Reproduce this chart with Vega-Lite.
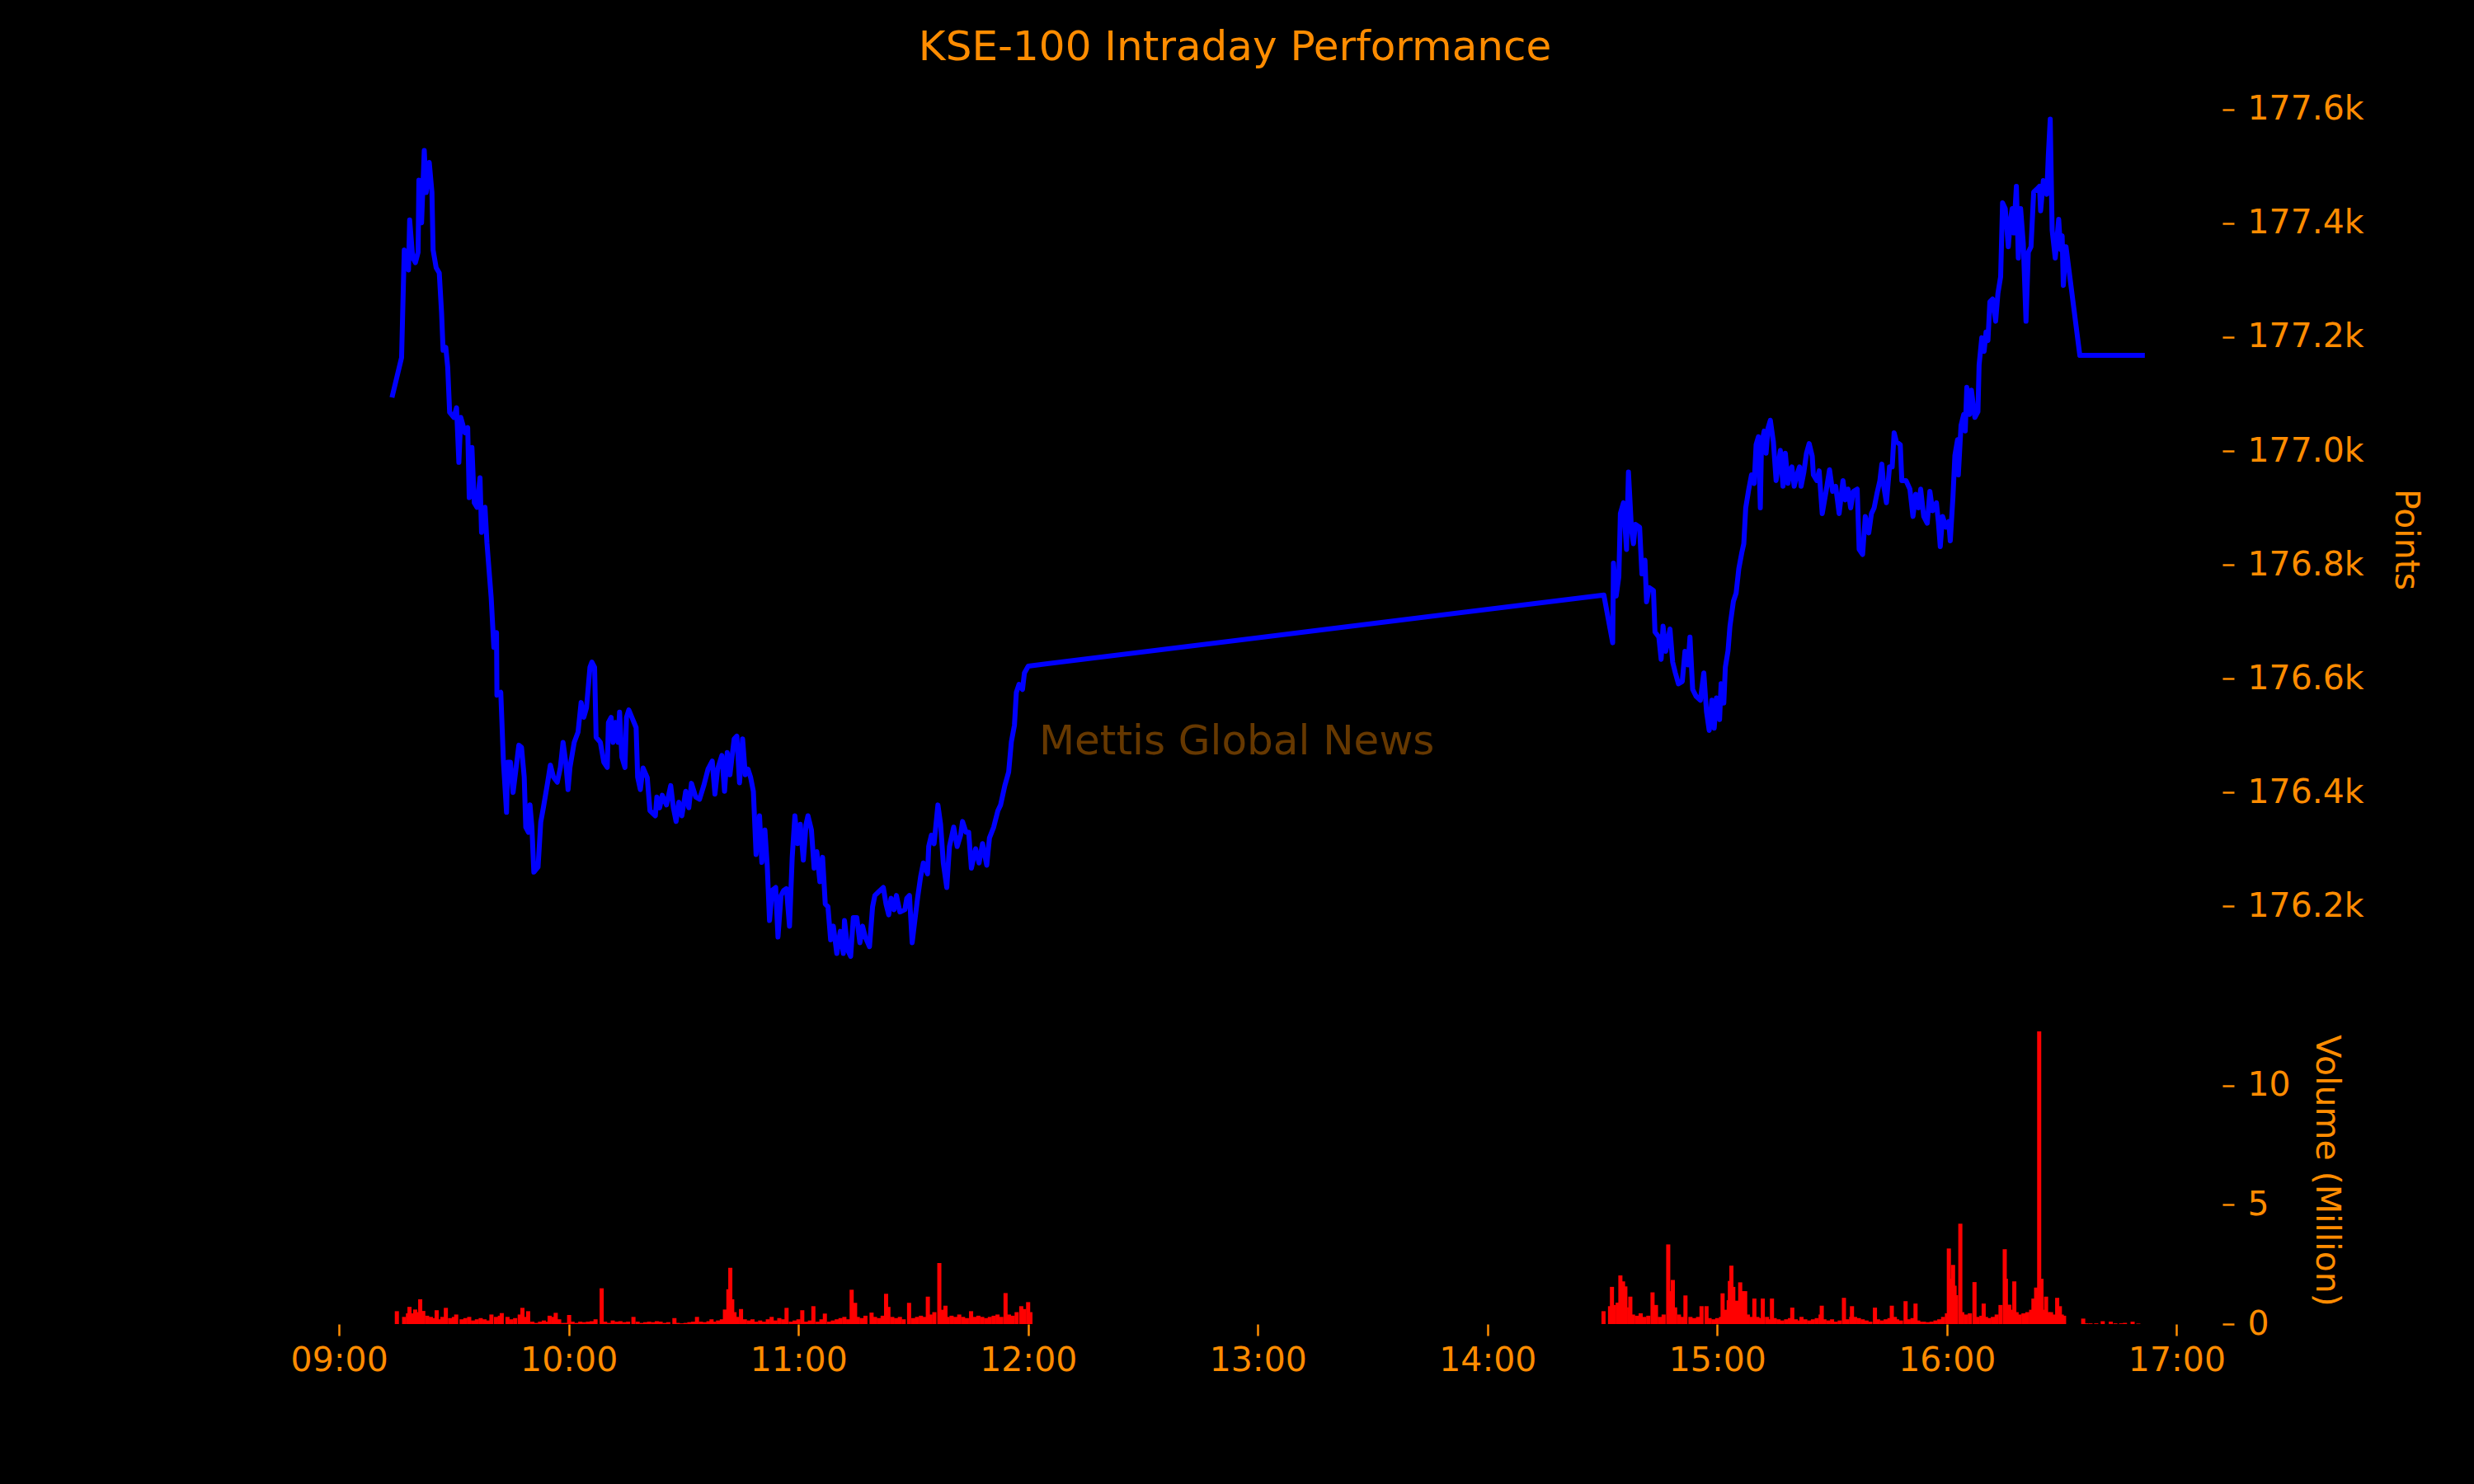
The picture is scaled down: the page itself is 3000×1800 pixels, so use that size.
{
  "$schema": "https://vega.github.io/schema/vega-lite/v6.json",
  "background": "black",
  "padding": {"left": 352, "top": 33, "right": 65, "bottom": 135},
  "title": {
    "text": "KSE-100 Intraday Performance",
    "color": "#ff8c00",
    "font": "DejaVu Sans",
    "fontSize": 50,
    "fontWeight": "normal",
    "anchor": "middle",
    "offset": 16,
    "dx": -147
  },
  "config": {
    "view": {"stroke": null},
    "axis": {
      "domain": false,
      "grid": false,
      "labelColor": "#ff8c00",
      "labelFont": "DejaVu Sans",
      "labelFontSize": 41,
      "tickColor": "#ff8c00",
      "tickSize": 14,
      "tickWidth": 2.5,
      "labelPadding": 16,
      "titleColor": "#ff8c00",
      "titleFont": "DejaVu Sans",
      "titleFontSize": 41,
      "titleFontWeight": "normal"
    }
  },
  "vconcat": [
    {
      "width": 2326,
      "height": 1110,
      "layer": [
        {
          "data": {"values": [
            {"time": "2025-06-02T09:14:48", "points": 177094}, {"time": "2025-06-02T09:17:18", "points": 177164}, {"time": "2025-06-02T09:18:00", "points": 177353},
            {"time": "2025-06-02T09:19:06", "points": 177318}, {"time": "2025-06-02T09:19:24", "points": 177406}, {"time": "2025-06-02T09:20:12", "points": 177340},
            {"time": "2025-06-02T09:20:54", "points": 177331}, {"time": "2025-06-02T09:21:36", "points": 177349}, {"time": "2025-06-02T09:21:48", "points": 177476},
            {"time": "2025-06-02T09:22:30", "points": 177401}, {"time": "2025-06-02T09:23:12", "points": 177528}, {"time": "2025-06-02T09:23:42", "points": 177454},
            {"time": "2025-06-02T09:24:30", "points": 177507}, {"time": "2025-06-02T09:25:12", "points": 177454}, {"time": "2025-06-02T09:25:30", "points": 177353},
            {"time": "2025-06-02T09:26:18", "points": 177322}, {"time": "2025-06-02T09:27:06", "points": 177313}, {"time": "2025-06-02T09:27:42", "points": 177243},
            {"time": "2025-06-02T09:28:06", "points": 177177}, {"time": "2025-06-02T09:28:48", "points": 177182}, {"time": "2025-06-02T09:29:18", "points": 177147},
            {"time": "2025-06-02T09:29:48", "points": 177068}, {"time": "2025-06-02T09:30:54", "points": 177059}, {"time": "2025-06-02T09:31:36", "points": 177076},
            {"time": "2025-06-02T09:32:12", "points": 176980}, {"time": "2025-06-02T09:32:42", "points": 177059}, {"time": "2025-06-02T09:33:48", "points": 177032},
            {"time": "2025-06-02T09:34:30", "points": 177041}, {"time": "2025-06-02T09:34:54", "points": 176918}, {"time": "2025-06-02T09:35:36", "points": 177006},
            {"time": "2025-06-02T09:36:12", "points": 176909}, {"time": "2025-06-02T09:36:54", "points": 176901}, {"time": "2025-06-02T09:37:42", "points": 176953},
            {"time": "2025-06-02T09:38:06", "points": 176857}, {"time": "2025-06-02T09:39:00", "points": 176901}, {"time": "2025-06-02T09:39:30", "points": 176839},
            {"time": "2025-06-02T09:40:36", "points": 176743}, {"time": "2025-06-02T09:41:18", "points": 176655}, {"time": "2025-06-02T09:42:00", "points": 176681},
            {"time": "2025-06-02T09:42:06", "points": 176571}, {"time": "2025-06-02T09:43:06", "points": 176576}, {"time": "2025-06-02T09:43:48", "points": 176453},
            {"time": "2025-06-02T09:44:36", "points": 176365}, {"time": "2025-06-02T09:44:54", "points": 176453}, {"time": "2025-06-02T09:45:36", "points": 176453},
            {"time": "2025-06-02T09:46:18", "points": 176400}, {"time": "2025-06-02T09:47:06", "points": 176444}, {"time": "2025-06-02T09:47:48", "points": 176483},
            {"time": "2025-06-02T09:48:30", "points": 176479}, {"time": "2025-06-02T09:49:12", "points": 176427}, {"time": "2025-06-02T09:49:36", "points": 176339},
            {"time": "2025-06-02T09:50:18", "points": 176330}, {"time": "2025-06-02T09:50:42", "points": 176378}, {"time": "2025-06-02T09:51:12", "points": 176339},
            {"time": "2025-06-02T09:51:42", "points": 176260}, {"time": "2025-06-02T09:52:48", "points": 176269}, {"time": "2025-06-02T09:53:30", "points": 176348},
            {"time": "2025-06-02T09:54:12", "points": 176374}, {"time": "2025-06-02T09:55:18", "points": 176418}, {"time": "2025-06-02T09:56:00", "points": 176448},
            {"time": "2025-06-02T09:56:48", "points": 176427}, {"time": "2025-06-02T09:57:48", "points": 176418}, {"time": "2025-06-02T09:58:36", "points": 176444},
            {"time": "2025-06-02T09:59:18", "points": 176488}, {"time": "2025-06-02T10:00:00", "points": 176453}, {"time": "2025-06-02T10:00:36", "points": 176405},
            {"time": "2025-06-02T10:01:06", "points": 176444}, {"time": "2025-06-02T10:02:12", "points": 176488}, {"time": "2025-06-02T10:03:12", "points": 176506},
            {"time": "2025-06-02T10:04:00", "points": 176558}, {"time": "2025-06-02T10:04:42", "points": 176532}, {"time": "2025-06-02T10:05:24", "points": 176549},
            {"time": "2025-06-02T10:06:18", "points": 176620}, {"time": "2025-06-02T10:06:48", "points": 176629}, {"time": "2025-06-02T10:07:30", "points": 176620},
            {"time": "2025-06-02T10:07:54", "points": 176497}, {"time": "2025-06-02T10:09:00", "points": 176488}, {"time": "2025-06-02T10:09:54", "points": 176453},
            {"time": "2025-06-02T10:10:48", "points": 176444}, {"time": "2025-06-02T10:11:06", "points": 176523}, {"time": "2025-06-02T10:11:48", "points": 176532},
            {"time": "2025-06-02T10:12:18", "points": 176488}, {"time": "2025-06-02T10:12:54", "points": 176523}, {"time": "2025-06-02T10:13:36", "points": 176488},
            {"time": "2025-06-02T10:14:00", "points": 176541}, {"time": "2025-06-02T10:14:36", "points": 176462}, {"time": "2025-06-02T10:15:24", "points": 176444},
            {"time": "2025-06-02T10:15:48", "points": 176532}, {"time": "2025-06-02T10:16:24", "points": 176545}, {"time": "2025-06-02T10:17:12", "points": 176532},
            {"time": "2025-06-02T10:18:18", "points": 176514}, {"time": "2025-06-02T10:18:42", "points": 176427}, {"time": "2025-06-02T10:19:24", "points": 176405},
            {"time": "2025-06-02T10:20:06", "points": 176443}, {"time": "2025-06-02T10:21:12", "points": 176426}, {"time": "2025-06-02T10:21:54", "points": 176368},
            {"time": "2025-06-02T10:23:18", "points": 176359}, {"time": "2025-06-02T10:23:42", "points": 176392}, {"time": "2025-06-02T10:24:24", "points": 176373},
            {"time": "2025-06-02T10:25:06", "points": 176395}, {"time": "2025-06-02T10:26:12", "points": 176378}, {"time": "2025-06-02T10:27:18", "points": 176412},
            {"time": "2025-06-02T10:28:00", "points": 176373}, {"time": "2025-06-02T10:28:42", "points": 176349}, {"time": "2025-06-02T10:29:24", "points": 176383},
            {"time": "2025-06-02T10:30:12", "points": 176359}, {"time": "2025-06-02T10:31:12", "points": 176402}, {"time": "2025-06-02T10:32:00", "points": 176373},
            {"time": "2025-06-02T10:32:42", "points": 176416}, {"time": "2025-06-02T10:33:48", "points": 176392}, {"time": "2025-06-02T10:34:48", "points": 176388},
            {"time": "2025-06-02T10:35:54", "points": 176412}, {"time": "2025-06-02T10:37:00", "points": 176441}, {"time": "2025-06-02T10:38:06", "points": 176455},
            {"time": "2025-06-02T10:38:48", "points": 176397}, {"time": "2025-06-02T10:39:30", "points": 176441}, {"time": "2025-06-02T10:40:36", "points": 176465},
            {"time": "2025-06-02T10:41:18", "points": 176402}, {"time": "2025-06-02T10:42:00", "points": 176470}, {"time": "2025-06-02T10:42:42", "points": 176431},
            {"time": "2025-06-02T10:43:48", "points": 176494}, {"time": "2025-06-02T10:44:30", "points": 176499}, {"time": "2025-06-02T10:45:12", "points": 176417},
            {"time": "2025-06-02T10:46:00", "points": 176494}, {"time": "2025-06-02T10:46:42", "points": 176431}, {"time": "2025-06-02T10:47:24", "points": 176441},
            {"time": "2025-06-02T10:48:06", "points": 176426}, {"time": "2025-06-02T10:48:48", "points": 176402}, {"time": "2025-06-02T10:49:30", "points": 176291},
            {"time": "2025-06-02T10:50:24", "points": 176359}, {"time": "2025-06-02T10:51:00", "points": 176277}, {"time": "2025-06-02T10:51:48", "points": 176334},
            {"time": "2025-06-02T10:52:24", "points": 176272}, {"time": "2025-06-02T10:53:00", "points": 176175}, {"time": "2025-06-02T10:53:42", "points": 176228},
            {"time": "2025-06-02T10:54:36", "points": 176233}, {"time": "2025-06-02T10:55:12", "points": 176146}, {"time": "2025-06-02T10:56:00", "points": 176219},
            {"time": "2025-06-02T10:56:42", "points": 176228}, {"time": "2025-06-02T10:57:24", "points": 176231}, {"time": "2025-06-02T10:58:12", "points": 176165},
            {"time": "2025-06-02T10:58:54", "points": 176286}, {"time": "2025-06-02T10:59:36", "points": 176359}, {"time": "2025-06-02T11:00:18", "points": 176310},
            {"time": "2025-06-02T11:01:00", "points": 176344}, {"time": "2025-06-02T11:01:48", "points": 176281}, {"time": "2025-06-02T11:02:30", "points": 176344},
            {"time": "2025-06-02T11:03:00", "points": 176359}, {"time": "2025-06-02T11:03:54", "points": 176334}, {"time": "2025-06-02T11:04:36", "points": 176267},
            {"time": "2025-06-02T11:05:18", "points": 176296}, {"time": "2025-06-02T11:06:06", "points": 176243}, {"time": "2025-06-02T11:06:48", "points": 176286},
            {"time": "2025-06-02T11:07:30", "points": 176204}, {"time": "2025-06-02T11:08:12", "points": 176199}, {"time": "2025-06-02T11:08:54", "points": 176141},
            {"time": "2025-06-02T11:09:36", "points": 176165}, {"time": "2025-06-02T11:10:30", "points": 176117}, {"time": "2025-06-02T11:11:24", "points": 176156},
            {"time": "2025-06-02T11:12:12", "points": 176117}, {"time": "2025-06-02T11:12:30", "points": 176175}, {"time": "2025-06-02T11:13:24", "points": 176122},
            {"time": "2025-06-02T11:14:06", "points": 176112}, {"time": "2025-06-02T11:14:48", "points": 176180}, {"time": "2025-06-02T11:15:42", "points": 176180},
            {"time": "2025-06-02T11:16:30", "points": 176136}, {"time": "2025-06-02T11:17:12", "points": 176165}, {"time": "2025-06-02T11:17:54", "points": 176146},
            {"time": "2025-06-02T11:19:00", "points": 176129}, {"time": "2025-06-02T11:19:48", "points": 176199}, {"time": "2025-06-02T11:20:24", "points": 176219},
            {"time": "2025-06-02T11:21:30", "points": 176226}, {"time": "2025-06-02T11:22:36", "points": 176233}, {"time": "2025-06-02T11:23:18", "points": 176204},
            {"time": "2025-06-02T11:24:00", "points": 176185}, {"time": "2025-06-02T11:24:36", "points": 176214}, {"time": "2025-06-02T11:25:24", "points": 176194},
            {"time": "2025-06-02T11:26:00", "points": 176219}, {"time": "2025-06-02T11:26:54", "points": 176190}, {"time": "2025-06-02T11:28:12", "points": 176194},
            {"time": "2025-06-02T11:28:42", "points": 176214}, {"time": "2025-06-02T11:29:24", "points": 176219}, {"time": "2025-06-02T11:30:06", "points": 176136},
            {"time": "2025-06-02T11:30:48", "points": 176175}, {"time": "2025-06-02T11:31:30", "points": 176214}, {"time": "2025-06-02T11:32:18", "points": 176252},
            {"time": "2025-06-02T11:33:00", "points": 176276}, {"time": "2025-06-02T11:34:06", "points": 176257}, {"time": "2025-06-02T11:34:24", "points": 176305},
            {"time": "2025-06-02T11:35:06", "points": 176325}, {"time": "2025-06-02T11:35:48", "points": 176310}, {"time": "2025-06-02T11:36:48", "points": 176378},
            {"time": "2025-06-02T11:37:30", "points": 176344}, {"time": "2025-06-02T11:38:12", "points": 176276}, {"time": "2025-06-02T11:39:06", "points": 176233},
            {"time": "2025-06-02T11:39:48", "points": 176305}, {"time": "2025-06-02T11:40:54", "points": 176339}, {"time": "2025-06-02T11:41:48", "points": 176305},
            {"time": "2025-06-02T11:42:42", "points": 176325}, {"time": "2025-06-02T11:43:12", "points": 176349}, {"time": "2025-06-02T11:44:06", "points": 176330},
            {"time": "2025-06-02T11:44:48", "points": 176330}, {"time": "2025-06-02T11:45:30", "points": 176267}, {"time": "2025-06-02T11:46:36", "points": 176301},
            {"time": "2025-06-02T11:47:30", "points": 176276}, {"time": "2025-06-02T11:48:24", "points": 176310}, {"time": "2025-06-02T11:49:30", "points": 176272},
            {"time": "2025-06-02T11:50:12", "points": 176320}, {"time": "2025-06-02T11:51:18", "points": 176339}, {"time": "2025-06-02T11:52:24", "points": 176368},
            {"time": "2025-06-02T11:53:06", "points": 176378}, {"time": "2025-06-02T11:54:12", "points": 176412}, {"time": "2025-06-02T11:55:12", "points": 176436},
            {"time": "2025-06-02T11:55:54", "points": 176489}, {"time": "2025-06-02T11:56:42", "points": 176518}, {"time": "2025-06-02T11:57:12", "points": 176576},
            {"time": "2025-06-02T11:57:54", "points": 176590}, {"time": "2025-06-02T11:58:48", "points": 176581}, {"time": "2025-06-02T11:59:18", "points": 176610},
            {"time": "2025-06-02T12:00:18", "points": 176622},
            {"time": "2025-06-02T14:30:00", "points": 176747}, {"time": "2025-06-02T14:32:18", "points": 176663}, {"time": "2025-06-02T14:32:30", "points": 176803},
            {"time": "2025-06-02T14:33:12", "points": 176745}, {"time": "2025-06-02T14:33:54", "points": 176779}, {"time": "2025-06-02T14:34:18", "points": 176890},
            {"time": "2025-06-02T14:35:06", "points": 176909}, {"time": "2025-06-02T14:35:54", "points": 176827}, {"time": "2025-06-02T14:36:24", "points": 176963},
            {"time": "2025-06-02T14:37:12", "points": 176861}, {"time": "2025-06-02T14:37:42", "points": 176837}, {"time": "2025-06-02T14:38:12", "points": 176871},
            {"time": "2025-06-02T14:39:18", "points": 176866}, {"time": "2025-06-02T14:39:54", "points": 176784}, {"time": "2025-06-02T14:40:42", "points": 176808},
            {"time": "2025-06-02T14:41:06", "points": 176735}, {"time": "2025-06-02T14:41:48", "points": 176760}, {"time": "2025-06-02T14:42:54", "points": 176755},
            {"time": "2025-06-02T14:43:18", "points": 176682}, {"time": "2025-06-02T14:44:18", "points": 176673}, {"time": "2025-06-02T14:44:54", "points": 176634},
            {"time": "2025-06-02T14:45:24", "points": 176692}, {"time": "2025-06-02T14:46:06", "points": 176648}, {"time": "2025-06-02T14:47:12", "points": 176687},
            {"time": "2025-06-02T14:47:54", "points": 176629}, {"time": "2025-06-02T14:48:36", "points": 176610}, {"time": "2025-06-02T14:49:24", "points": 176591},
            {"time": "2025-06-02T14:50:24", "points": 176595}, {"time": "2025-06-02T14:51:06", "points": 176648}, {"time": "2025-06-02T14:51:54", "points": 176624},
            {"time": "2025-06-02T14:52:24", "points": 176673}, {"time": "2025-06-02T14:53:06", "points": 176581}, {"time": "2025-06-02T14:54:00", "points": 176569},
            {"time": "2025-06-02T14:55:06", "points": 176562}, {"time": "2025-06-02T14:56:00", "points": 176610}, {"time": "2025-06-02T14:56:42", "points": 176542},
            {"time": "2025-06-02T14:57:24", "points": 176509}, {"time": "2025-06-02T14:58:06", "points": 176562}, {"time": "2025-06-02T14:58:42", "points": 176513},
            {"time": "2025-06-02T14:59:18", "points": 176566}, {"time": "2025-06-02T15:00:06", "points": 176528}, {"time": "2025-06-02T15:00:30", "points": 176591},
            {"time": "2025-06-02T15:01:12", "points": 176557}, {"time": "2025-06-02T15:01:36", "points": 176620}, {"time": "2025-06-02T15:02:18", "points": 176649},
            {"time": "2025-06-02T15:02:48", "points": 176692}, {"time": "2025-06-02T15:03:42", "points": 176736}, {"time": "2025-06-02T15:04:24", "points": 176750},
            {"time": "2025-06-02T15:05:06", "points": 176793}, {"time": "2025-06-02T15:05:54", "points": 176822}, {"time": "2025-06-02T15:06:24", "points": 176837},
            {"time": "2025-06-02T15:06:54", "points": 176900}, {"time": "2025-06-02T15:07:42", "points": 176933}, {"time": "2025-06-02T15:08:24", "points": 176958},
            {"time": "2025-06-02T15:09:06", "points": 176943}, {"time": "2025-06-02T15:09:36", "points": 177011}, {"time": "2025-06-02T15:10:12", "points": 177025},
            {"time": "2025-06-02T15:10:42", "points": 176900}, {"time": "2025-06-02T15:11:00", "points": 177011}, {"time": "2025-06-02T15:11:42", "points": 177035},
            {"time": "2025-06-02T15:12:12", "points": 176996}, {"time": "2025-06-02T15:12:42", "points": 177040}, {"time": "2025-06-02T15:13:18", "points": 177054},
            {"time": "2025-06-02T15:14:06", "points": 177016}, {"time": "2025-06-02T15:14:48", "points": 176948}, {"time": "2025-06-02T15:15:54", "points": 177001},
            {"time": "2025-06-02T15:16:36", "points": 176938}, {"time": "2025-06-02T15:17:12", "points": 176996}, {"time": "2025-06-02T15:17:54", "points": 176943},
            {"time": "2025-06-02T15:18:24", "points": 176967}, {"time": "2025-06-02T15:18:54", "points": 176972}, {"time": "2025-06-02T15:19:30", "points": 176938},
            {"time": "2025-06-02T15:20:12", "points": 176958}, {"time": "2025-06-02T15:20:54", "points": 176972}, {"time": "2025-06-02T15:21:18", "points": 176938},
            {"time": "2025-06-02T15:22:00", "points": 176962}, {"time": "2025-06-02T15:22:42", "points": 176996}, {"time": "2025-06-02T15:23:24", "points": 177013},
            {"time": "2025-06-02T15:24:12", "points": 176991}, {"time": "2025-06-02T15:24:30", "points": 176958}, {"time": "2025-06-02T15:25:24", "points": 176948},
            {"time": "2025-06-02T15:26:00", "points": 176965}, {"time": "2025-06-02T15:26:48", "points": 176890}, {"time": "2025-06-02T15:27:48", "points": 176929},
            {"time": "2025-06-02T15:28:42", "points": 176967}, {"time": "2025-06-02T15:29:30", "points": 176929}, {"time": "2025-06-02T15:30:18", "points": 176938},
            {"time": "2025-06-02T15:31:12", "points": 176890}, {"time": "2025-06-02T15:32:12", "points": 176948}, {"time": "2025-06-02T15:32:48", "points": 176914},
            {"time": "2025-06-02T15:33:30", "points": 176933}, {"time": "2025-06-02T15:34:12", "points": 176900}, {"time": "2025-06-02T15:34:54", "points": 176929},
            {"time": "2025-06-02T15:35:54", "points": 176933}, {"time": "2025-06-02T15:36:24", "points": 176827}, {"time": "2025-06-02T15:37:18", "points": 176818},
            {"time": "2025-06-02T15:38:00", "points": 176885}, {"time": "2025-06-02T15:38:54", "points": 176856}, {"time": "2025-06-02T15:39:36", "points": 176890},
            {"time": "2025-06-02T15:40:18", "points": 176900}, {"time": "2025-06-02T15:41:00", "points": 176924}, {"time": "2025-06-02T15:41:48", "points": 176948},
            {"time": "2025-06-02T15:42:18", "points": 176977}, {"time": "2025-06-02T15:42:48", "points": 176938}, {"time": "2025-06-02T15:43:30", "points": 176909},
            {"time": "2025-06-02T15:44:18", "points": 176972}, {"time": "2025-06-02T15:45:00", "points": 176972}, {"time": "2025-06-02T15:45:30", "points": 177032},
            {"time": "2025-06-02T15:46:06", "points": 177016}, {"time": "2025-06-02T15:47:06", "points": 177011}, {"time": "2025-06-02T15:47:30", "points": 176948},
            {"time": "2025-06-02T15:48:36", "points": 176948}, {"time": "2025-06-02T15:49:36", "points": 176933}, {"time": "2025-06-02T15:50:24", "points": 176885},
            {"time": "2025-06-02T15:51:06", "points": 176924}, {"time": "2025-06-02T15:51:48", "points": 176900}, {"time": "2025-06-02T15:52:24", "points": 176933},
            {"time": "2025-06-02T15:53:12", "points": 176885}, {"time": "2025-06-02T15:54:06", "points": 176873}, {"time": "2025-06-02T15:54:48", "points": 176929},
            {"time": "2025-06-02T15:55:30", "points": 176895}, {"time": "2025-06-02T15:56:30", "points": 176909}, {"time": "2025-06-02T15:57:00", "points": 176876},
            {"time": "2025-06-02T15:57:30", "points": 176832}, {"time": "2025-06-02T15:58:06", "points": 176885}, {"time": "2025-06-02T15:59:00", "points": 176866},
            {"time": "2025-06-02T15:59:42", "points": 176876}, {"time": "2025-06-02T16:00:06", "points": 176842}, {"time": "2025-06-02T16:00:48", "points": 176919},
            {"time": "2025-06-02T16:01:18", "points": 176992}, {"time": "2025-06-02T16:02:00", "points": 177020}, {"time": "2025-06-02T16:02:12", "points": 176958},
            {"time": "2025-06-02T16:02:54", "points": 177045}, {"time": "2025-06-02T16:03:36", "points": 177064}, {"time": "2025-06-02T16:04:00", "points": 177035},
            {"time": "2025-06-02T16:04:24", "points": 177112}, {"time": "2025-06-02T16:05:06", "points": 177064}, {"time": "2025-06-02T16:05:36", "points": 177107},
            {"time": "2025-06-02T16:06:30", "points": 177059}, {"time": "2025-06-02T16:07:18", "points": 177069}, {"time": "2025-06-02T16:07:36", "points": 177151},
            {"time": "2025-06-02T16:08:18", "points": 177199}, {"time": "2025-06-02T16:08:54", "points": 177175}, {"time": "2025-06-02T16:09:24", "points": 177209},
            {"time": "2025-06-02T16:09:54", "points": 177194}, {"time": "2025-06-02T16:10:24", "points": 177262}, {"time": "2025-06-02T16:11:06", "points": 177267},
            {"time": "2025-06-02T16:11:54", "points": 177228}, {"time": "2025-06-02T16:12:30", "points": 177277}, {"time": "2025-06-02T16:13:12", "points": 177306},
            {"time": "2025-06-02T16:13:42", "points": 177436}, {"time": "2025-06-02T16:14:24", "points": 177426}, {"time": "2025-06-02T16:15:12", "points": 177359},
            {"time": "2025-06-02T16:15:42", "points": 177402}, {"time": "2025-06-02T16:16:12", "points": 177426}, {"time": "2025-06-02T16:16:36", "points": 177383},
            {"time": "2025-06-02T16:17:18", "points": 177465}, {"time": "2025-06-02T16:17:48", "points": 177339}, {"time": "2025-06-02T16:18:24", "points": 177426},
            {"time": "2025-06-02T16:19:06", "points": 177364}, {"time": "2025-06-02T16:19:48", "points": 177228}, {"time": "2025-06-02T16:20:24", "points": 177349},
            {"time": "2025-06-02T16:21:06", "points": 177359}, {"time": "2025-06-02T16:21:48", "points": 177455}, {"time": "2025-06-02T16:22:36", "points": 177460},
            {"time": "2025-06-02T16:23:18", "points": 177465}, {"time": "2025-06-02T16:23:36", "points": 177422}, {"time": "2025-06-02T16:24:18", "points": 177475},
            {"time": "2025-06-02T16:25:12", "points": 177451}, {"time": "2025-06-02T16:25:36", "points": 177518}, {"time": "2025-06-02T16:26:06", "points": 177583},
            {"time": "2025-06-02T16:26:36", "points": 177388}, {"time": "2025-06-02T16:27:24", "points": 177339}, {"time": "2025-06-02T16:28:18", "points": 177407},
            {"time": "2025-06-02T16:28:48", "points": 177354}, {"time": "2025-06-02T16:29:12", "points": 177378}, {"time": "2025-06-02T16:29:30", "points": 177291},
            {"time": "2025-06-02T16:30:12", "points": 177359}, {"time": "2025-06-02T16:33:48", "points": 177168}, {"time": "2025-06-02T16:50:42", "points": 177168}
          ]},
          "mark": {"type": "line", "color": "#0000ff", "strokeWidth": 6, "strokeJoin": "round"},
          "encoding": {
            "x": {
              "field": "time",
              "type": "temporal",
              "scale": {"domain": [
                {"year": 2025, "month": 6, "date": 2, "hours": 8, "minutes": 52},
                {"year": 2025, "month": 6, "date": 2, "hours": 17, "minutes": 10, "seconds": 54}
              ]},
              "axis": null
            },
            "y": {
              "field": "points",
              "type": "quantitative",
              "scale": {"domain": [176041, 177649], "nice": false, "zero": false},
              "axis": {
                "orient": "right",
                "values": [176200, 176400, 176600, 176800, 177000, 177200, 177400, 177600],
                "format": ".4s",
                "title": "Points",
                "titlePadding": 29
              }
            }
          }
        },
        {
          "data": {"values": [
            {"time": "2025-06-02T12:54:30", "points": 176488, "label": "Mettis Global News"}
          ]},
          "mark": {
            "type": "text",
            "font": "DejaVu Sans",
            "fontSize": 50,
            "color": "#ff8c00",
            "opacity": 0.4,
            "align": "center",
            "baseline": "middle"
          },
          "encoding": {
            "x": {"field": "time", "type": "temporal"},
            "y": {"field": "points", "type": "quantitative"},
            "text": {"field": "label"}
          }
        }
      ]
    },
    {
      "width": 2326,
      "height": 373,
      "data": {"values": [
        {"time": "2025-06-02T09:15:06", "volume": 0.54}, {"time": "2025-06-02T09:17:00", "volume": 0.30}, {"time": "2025-06-02T09:18:00", "volume": 0.45},
        {"time": "2025-06-02T09:18:24", "volume": 0.72}, {"time": "2025-06-02T09:19:00", "volume": 0.45}, {"time": "2025-06-02T09:19:54", "volume": 0.61},
        {"time": "2025-06-02T09:20:30", "volume": 0.50}, {"time": "2025-06-02T09:21:12", "volume": 1.04}, {"time": "2025-06-02T09:22:00", "volume": 0.55},
        {"time": "2025-06-02T09:23:00", "volume": 0.35}, {"time": "2025-06-02T09:24:00", "volume": 0.30}, {"time": "2025-06-02T09:25:00", "volume": 0.25},
        {"time": "2025-06-02T09:25:30", "volume": 0.58}, {"time": "2025-06-02T09:26:30", "volume": 0.20}, {"time": "2025-06-02T09:27:00", "volume": 0.30},
        {"time": "2025-06-02T09:27:54", "volume": 0.68}, {"time": "2025-06-02T09:29:00", "volume": 0.25}, {"time": "2025-06-02T09:30:00", "volume": 0.30},
        {"time": "2025-06-02T09:30:36", "volume": 0.40}, {"time": "2025-06-02T09:32:00", "volume": 0.20}, {"time": "2025-06-02T09:33:00", "volume": 0.25},
        {"time": "2025-06-02T09:34:00", "volume": 0.30}, {"time": "2025-06-02T09:35:00", "volume": 0.15}, {"time": "2025-06-02T09:36:00", "volume": 0.20},
        {"time": "2025-06-02T09:37:00", "volume": 0.25}, {"time": "2025-06-02T09:38:00", "volume": 0.20}, {"time": "2025-06-02T09:39:00", "volume": 0.15},
        {"time": "2025-06-02T09:39:48", "volume": 0.40}, {"time": "2025-06-02T09:41:00", "volume": 0.30}, {"time": "2025-06-02T09:42:00", "volume": 0.35},
        {"time": "2025-06-02T09:42:30", "volume": 0.46}, {"time": "2025-06-02T09:44:00", "volume": 0.30}, {"time": "2025-06-02T09:45:00", "volume": 0.20},
        {"time": "2025-06-02T09:46:00", "volume": 0.25}, {"time": "2025-06-02T09:47:12", "volume": 0.40}, {"time": "2025-06-02T09:47:54", "volume": 0.68},
        {"time": "2025-06-02T09:48:30", "volume": 0.30}, {"time": "2025-06-02T09:49:24", "volume": 0.54}, {"time": "2025-06-02T09:50:30", "volume": 0.10},
        {"time": "2025-06-02T09:51:30", "volume": 0.05}, {"time": "2025-06-02T09:52:30", "volume": 0.10}, {"time": "2025-06-02T09:53:30", "volume": 0.15},
        {"time": "2025-06-02T09:54:30", "volume": 0.10}, {"time": "2025-06-02T09:55:00", "volume": 0.35}, {"time": "2025-06-02T09:56:00", "volume": 0.30},
        {"time": "2025-06-02T09:56:36", "volume": 0.47}, {"time": "2025-06-02T09:57:30", "volume": 0.20}, {"time": "2025-06-02T09:58:30", "volume": 0.05},
        {"time": "2025-06-02T09:59:30", "volume": 0.05}, {"time": "2025-06-02T10:00:06", "volume": 0.38}, {"time": "2025-06-02T10:01:00", "volume": 0.10},
        {"time": "2025-06-02T10:02:00", "volume": 0.05}, {"time": "2025-06-02T10:03:00", "volume": 0.10}, {"time": "2025-06-02T10:04:00", "volume": 0.08},
        {"time": "2025-06-02T10:05:00", "volume": 0.10}, {"time": "2025-06-02T10:06:00", "volume": 0.12}, {"time": "2025-06-02T10:07:00", "volume": 0.20},
        {"time": "2025-06-02T10:08:36", "volume": 1.50}, {"time": "2025-06-02T10:09:30", "volume": 0.10}, {"time": "2025-06-02T10:10:30", "volume": 0.05},
        {"time": "2025-06-02T10:11:30", "volume": 0.15}, {"time": "2025-06-02T10:12:30", "volume": 0.10}, {"time": "2025-06-02T10:13:30", "volume": 0.12},
        {"time": "2025-06-02T10:14:30", "volume": 0.08}, {"time": "2025-06-02T10:15:30", "volume": 0.10}, {"time": "2025-06-02T10:16:54", "volume": 0.30},
        {"time": "2025-06-02T10:18:00", "volume": 0.10}, {"time": "2025-06-02T10:19:00", "volume": 0.05}, {"time": "2025-06-02T10:20:00", "volume": 0.08},
        {"time": "2025-06-02T10:21:00", "volume": 0.10}, {"time": "2025-06-02T10:22:00", "volume": 0.08}, {"time": "2025-06-02T10:23:00", "volume": 0.12},
        {"time": "2025-06-02T10:24:00", "volume": 0.10}, {"time": "2025-06-02T10:25:00", "volume": 0.05}, {"time": "2025-06-02T10:26:00", "volume": 0.08},
        {"time": "2025-06-02T10:27:36", "volume": 0.25}, {"time": "2025-06-02T10:28:30", "volume": 0.05}, {"time": "2025-06-02T10:29:30", "volume": 0.03},
        {"time": "2025-06-02T10:30:30", "volume": 0.05}, {"time": "2025-06-02T10:31:30", "volume": 0.08}, {"time": "2025-06-02T10:32:30", "volume": 0.10},
        {"time": "2025-06-02T10:33:30", "volume": 0.30}, {"time": "2025-06-02T10:34:30", "volume": 0.10}, {"time": "2025-06-02T10:35:30", "volume": 0.08},
        {"time": "2025-06-02T10:36:30", "volume": 0.12}, {"time": "2025-06-02T10:37:18", "volume": 0.20}, {"time": "2025-06-02T10:38:00", "volume": 0.10},
        {"time": "2025-06-02T10:39:00", "volume": 0.15}, {"time": "2025-06-02T10:40:00", "volume": 0.20}, {"time": "2025-06-02T10:40:48", "volume": 0.61},
        {"time": "2025-06-02T10:41:42", "volume": 1.46}, {"time": "2025-06-02T10:42:12", "volume": 2.36}, {"time": "2025-06-02T10:42:42", "volume": 1.04},
        {"time": "2025-06-02T10:43:18", "volume": 0.50}, {"time": "2025-06-02T10:44:00", "volume": 0.30}, {"time": "2025-06-02T10:45:00", "volume": 0.63},
        {"time": "2025-06-02T10:46:00", "volume": 0.20}, {"time": "2025-06-02T10:47:00", "volume": 0.15}, {"time": "2025-06-02T10:48:00", "volume": 0.20},
        {"time": "2025-06-02T10:49:00", "volume": 0.10}, {"time": "2025-06-02T10:50:00", "volume": 0.15}, {"time": "2025-06-02T10:51:00", "volume": 0.10},
        {"time": "2025-06-02T10:52:00", "volume": 0.20}, {"time": "2025-06-02T10:53:00", "volume": 0.30}, {"time": "2025-06-02T10:54:00", "volume": 0.15},
        {"time": "2025-06-02T10:55:00", "volume": 0.25}, {"time": "2025-06-02T10:56:00", "volume": 0.20}, {"time": "2025-06-02T10:56:54", "volume": 0.68},
        {"time": "2025-06-02T10:58:00", "volume": 0.10}, {"time": "2025-06-02T10:59:00", "volume": 0.15}, {"time": "2025-06-02T11:00:00", "volume": 0.20},
        {"time": "2025-06-02T11:01:00", "volume": 0.58}, {"time": "2025-06-02T11:02:00", "volume": 0.10}, {"time": "2025-06-02T11:03:00", "volume": 0.15},
        {"time": "2025-06-02T11:03:54", "volume": 0.75}, {"time": "2025-06-02T11:05:00", "volume": 0.10}, {"time": "2025-06-02T11:06:00", "volume": 0.20},
        {"time": "2025-06-02T11:06:54", "volume": 0.44}, {"time": "2025-06-02T11:08:00", "volume": 0.10}, {"time": "2025-06-02T11:09:00", "volume": 0.15},
        {"time": "2025-06-02T11:10:00", "volume": 0.20}, {"time": "2025-06-02T11:11:00", "volume": 0.25}, {"time": "2025-06-02T11:12:00", "volume": 0.30},
        {"time": "2025-06-02T11:13:00", "volume": 0.20}, {"time": "2025-06-02T11:13:54", "volume": 1.44}, {"time": "2025-06-02T11:14:48", "volume": 0.89},
        {"time": "2025-06-02T11:15:30", "volume": 0.30}, {"time": "2025-06-02T11:16:30", "volume": 0.25}, {"time": "2025-06-02T11:17:30", "volume": 0.35},
        {"time": "2025-06-02T11:19:06", "volume": 0.48}, {"time": "2025-06-02T11:20:00", "volume": 0.30}, {"time": "2025-06-02T11:21:00", "volume": 0.25},
        {"time": "2025-06-02T11:22:00", "volume": 0.35}, {"time": "2025-06-02T11:22:54", "volume": 1.27}, {"time": "2025-06-02T11:23:30", "volume": 0.72},
        {"time": "2025-06-02T11:24:30", "volume": 0.30}, {"time": "2025-06-02T11:25:30", "volume": 0.25}, {"time": "2025-06-02T11:26:30", "volume": 0.30},
        {"time": "2025-06-02T11:27:30", "volume": 0.20}, {"time": "2025-06-02T11:28:54", "volume": 0.89}, {"time": "2025-06-02T11:30:00", "volume": 0.25},
        {"time": "2025-06-02T11:31:00", "volume": 0.30}, {"time": "2025-06-02T11:32:00", "volume": 0.35}, {"time": "2025-06-02T11:33:00", "volume": 0.30},
        {"time": "2025-06-02T11:33:48", "volume": 1.15}, {"time": "2025-06-02T11:34:30", "volume": 0.40}, {"time": "2025-06-02T11:35:30", "volume": 0.50},
        {"time": "2025-06-02T11:36:48", "volume": 2.56}, {"time": "2025-06-02T11:37:30", "volume": 0.60}, {"time": "2025-06-02T11:38:24", "volume": 0.77},
        {"time": "2025-06-02T11:39:00", "volume": 0.30}, {"time": "2025-06-02T11:40:00", "volume": 0.35}, {"time": "2025-06-02T11:41:00", "volume": 0.30},
        {"time": "2025-06-02T11:42:00", "volume": 0.40}, {"time": "2025-06-02T11:43:00", "volume": 0.30}, {"time": "2025-06-02T11:44:00", "volume": 0.25},
        {"time": "2025-06-02T11:45:06", "volume": 0.54}, {"time": "2025-06-02T11:46:00", "volume": 0.30}, {"time": "2025-06-02T11:47:00", "volume": 0.35},
        {"time": "2025-06-02T11:48:00", "volume": 0.30}, {"time": "2025-06-02T11:49:00", "volume": 0.25}, {"time": "2025-06-02T11:50:00", "volume": 0.30},
        {"time": "2025-06-02T11:51:00", "volume": 0.35}, {"time": "2025-06-02T11:52:00", "volume": 0.40}, {"time": "2025-06-02T11:53:00", "volume": 0.30},
        {"time": "2025-06-02T11:54:06", "volume": 1.30}, {"time": "2025-06-02T11:55:00", "volume": 0.40}, {"time": "2025-06-02T11:56:00", "volume": 0.35},
        {"time": "2025-06-02T11:57:00", "volume": 0.50}, {"time": "2025-06-02T11:58:12", "volume": 0.75}, {"time": "2025-06-02T11:59:00", "volume": 0.63},
        {"time": "2025-06-02T12:00:00", "volume": 0.92}, {"time": "2025-06-02T12:00:36", "volume": 0.50},
        {"time": "2025-06-02T14:30:18", "volume": 0.54}, {"time": "2025-06-02T14:32:00", "volume": 0.75}, {"time": "2025-06-02T14:32:30", "volume": 1.56},
        {"time": "2025-06-02T14:33:00", "volume": 0.80}, {"time": "2025-06-02T14:34:00", "volume": 0.90}, {"time": "2025-06-02T14:34:42", "volume": 2.04},
        {"time": "2025-06-02T14:35:24", "volume": 1.79}, {"time": "2025-06-02T14:36:00", "volume": 1.58}, {"time": "2025-06-02T14:37:00", "volume": 0.70},
        {"time": "2025-06-02T14:37:18", "volume": 1.15}, {"time": "2025-06-02T14:38:00", "volume": 0.40}, {"time": "2025-06-02T14:39:00", "volume": 0.35},
        {"time": "2025-06-02T14:40:00", "volume": 0.45}, {"time": "2025-06-02T14:41:00", "volume": 0.30}, {"time": "2025-06-02T14:42:00", "volume": 0.35},
        {"time": "2025-06-02T14:43:06", "volume": 1.33}, {"time": "2025-06-02T14:44:00", "volume": 0.80}, {"time": "2025-06-02T14:45:00", "volume": 0.30},
        {"time": "2025-06-02T14:46:00", "volume": 0.40}, {"time": "2025-06-02T14:47:12", "volume": 3.34}, {"time": "2025-06-02T14:47:36", "volume": 1.38},
        {"time": "2025-06-02T14:48:24", "volume": 1.85}, {"time": "2025-06-02T14:49:00", "volume": 0.70}, {"time": "2025-06-02T14:50:00", "volume": 0.40},
        {"time": "2025-06-02T14:51:00", "volume": 0.30}, {"time": "2025-06-02T14:51:42", "volume": 1.20}, {"time": "2025-06-02T14:53:00", "volume": 0.30},
        {"time": "2025-06-02T14:54:00", "volume": 0.25}, {"time": "2025-06-02T14:55:00", "volume": 0.30}, {"time": "2025-06-02T14:55:54", "volume": 0.75},
        {"time": "2025-06-02T14:57:12", "volume": 0.75}, {"time": "2025-06-02T14:58:00", "volume": 0.25}, {"time": "2025-06-02T14:59:00", "volume": 0.20},
        {"time": "2025-06-02T15:00:00", "volume": 0.25}, {"time": "2025-06-02T15:01:00", "volume": 0.30}, {"time": "2025-06-02T15:01:24", "volume": 1.29},
        {"time": "2025-06-02T15:02:00", "volume": 0.60}, {"time": "2025-06-02T15:03:00", "volume": 1.00}, {"time": "2025-06-02T15:03:18", "volume": 1.81},
        {"time": "2025-06-02T15:03:42", "volume": 2.45}, {"time": "2025-06-02T15:04:12", "volume": 1.56}, {"time": "2025-06-02T15:05:00", "volume": 0.98},
        {"time": "2025-06-02T15:06:00", "volume": 1.75}, {"time": "2025-06-02T15:06:36", "volume": 1.38}, {"time": "2025-06-02T15:07:18", "volume": 1.38},
        {"time": "2025-06-02T15:08:00", "volume": 0.40}, {"time": "2025-06-02T15:09:00", "volume": 0.30}, {"time": "2025-06-02T15:09:42", "volume": 1.07},
        {"time": "2025-06-02T15:10:30", "volume": 0.30}, {"time": "2025-06-02T15:11:00", "volume": 0.25}, {"time": "2025-06-02T15:11:54", "volume": 1.07},
        {"time": "2025-06-02T15:13:00", "volume": 0.30}, {"time": "2025-06-02T15:14:00", "volume": 0.20}, {"time": "2025-06-02T15:14:18", "volume": 1.07},
        {"time": "2025-06-02T15:15:00", "volume": 0.25}, {"time": "2025-06-02T15:16:00", "volume": 0.20}, {"time": "2025-06-02T15:17:00", "volume": 0.15},
        {"time": "2025-06-02T15:18:00", "volume": 0.20}, {"time": "2025-06-02T15:19:00", "volume": 0.25}, {"time": "2025-06-02T15:19:36", "volume": 0.69},
        {"time": "2025-06-02T15:20:30", "volume": 0.20}, {"time": "2025-06-02T15:21:00", "volume": 0.15}, {"time": "2025-06-02T15:22:00", "volume": 0.30},
        {"time": "2025-06-02T15:23:00", "volume": 0.20}, {"time": "2025-06-02T15:24:00", "volume": 0.15}, {"time": "2025-06-02T15:25:00", "volume": 0.20},
        {"time": "2025-06-02T15:26:00", "volume": 0.25}, {"time": "2025-06-02T15:27:00", "volume": 0.40}, {"time": "2025-06-02T15:27:18", "volume": 0.77},
        {"time": "2025-06-02T15:28:00", "volume": 0.20}, {"time": "2025-06-02T15:29:00", "volume": 0.15}, {"time": "2025-06-02T15:30:00", "volume": 0.20},
        {"time": "2025-06-02T15:31:00", "volume": 0.10}, {"time": "2025-06-02T15:32:00", "volume": 0.15}, {"time": "2025-06-02T15:33:06", "volume": 1.10},
        {"time": "2025-06-02T15:34:00", "volume": 0.20}, {"time": "2025-06-02T15:35:00", "volume": 0.30}, {"time": "2025-06-02T15:35:12", "volume": 0.75},
        {"time": "2025-06-02T15:36:00", "volume": 0.30}, {"time": "2025-06-02T15:37:00", "volume": 0.25}, {"time": "2025-06-02T15:38:00", "volume": 0.20},
        {"time": "2025-06-02T15:39:00", "volume": 0.15}, {"time": "2025-06-02T15:40:00", "volume": 0.10}, {"time": "2025-06-02T15:41:12", "volume": 0.69},
        {"time": "2025-06-02T15:42:00", "volume": 0.20}, {"time": "2025-06-02T15:43:00", "volume": 0.15}, {"time": "2025-06-02T15:44:00", "volume": 0.20},
        {"time": "2025-06-02T15:45:00", "volume": 0.25}, {"time": "2025-06-02T15:45:36", "volume": 0.77}, {"time": "2025-06-02T15:46:24", "volume": 0.30},
        {"time": "2025-06-02T15:47:00", "volume": 0.20}, {"time": "2025-06-02T15:48:00", "volume": 0.15}, {"time": "2025-06-02T15:49:12", "volume": 0.96},
        {"time": "2025-06-02T15:50:00", "volume": 0.20}, {"time": "2025-06-02T15:51:00", "volume": 0.25}, {"time": "2025-06-02T15:51:48", "volume": 0.86},
        {"time": "2025-06-02T15:52:30", "volume": 0.15}, {"time": "2025-06-02T15:53:00", "volume": 0.10}, {"time": "2025-06-02T15:54:00", "volume": 0.10},
        {"time": "2025-06-02T15:55:00", "volume": 0.08}, {"time": "2025-06-02T15:56:00", "volume": 0.10}, {"time": "2025-06-02T15:57:00", "volume": 0.15},
        {"time": "2025-06-02T15:58:00", "volume": 0.20}, {"time": "2025-06-02T15:59:00", "volume": 0.30}, {"time": "2025-06-02T16:00:00", "volume": 0.45},
        {"time": "2025-06-02T16:00:30", "volume": 3.17}, {"time": "2025-06-02T16:01:00", "volume": 1.90}, {"time": "2025-06-02T16:01:36", "volume": 2.48},
        {"time": "2025-06-02T16:02:00", "volume": 1.61}, {"time": "2025-06-02T16:02:24", "volume": 1.21}, {"time": "2025-06-02T16:03:30", "volume": 4.21},
        {"time": "2025-06-02T16:04:00", "volume": 0.50}, {"time": "2025-06-02T16:05:00", "volume": 0.40}, {"time": "2025-06-02T16:06:00", "volume": 0.45},
        {"time": "2025-06-02T16:07:12", "volume": 1.76}, {"time": "2025-06-02T16:08:00", "volume": 0.30}, {"time": "2025-06-02T16:09:00", "volume": 0.35},
        {"time": "2025-06-02T16:09:36", "volume": 0.86}, {"time": "2025-06-02T16:10:12", "volume": 0.30}, {"time": "2025-06-02T16:11:00", "volume": 0.25},
        {"time": "2025-06-02T16:12:00", "volume": 0.30}, {"time": "2025-06-02T16:13:00", "volume": 0.40}, {"time": "2025-06-02T16:14:00", "volume": 0.80},
        {"time": "2025-06-02T16:15:06", "volume": 3.14}, {"time": "2025-06-02T16:15:24", "volume": 1.90}, {"time": "2025-06-02T16:16:00", "volume": 0.80},
        {"time": "2025-06-02T16:16:18", "volume": 0.81}, {"time": "2025-06-02T16:17:00", "volume": 0.60}, {"time": "2025-06-02T16:17:36", "volume": 1.79},
        {"time": "2025-06-02T16:18:12", "volume": 0.50}, {"time": "2025-06-02T16:19:00", "volume": 0.40}, {"time": "2025-06-02T16:20:00", "volume": 0.45},
        {"time": "2025-06-02T16:21:00", "volume": 0.50}, {"time": "2025-06-02T16:22:00", "volume": 0.60}, {"time": "2025-06-02T16:22:36", "volume": 1.07},
        {"time": "2025-06-02T16:23:18", "volume": 1.53}, {"time": "2025-06-02T16:24:06", "volume": 12.28}, {"time": "2025-06-02T16:24:42", "volume": 1.90},
        {"time": "2025-06-02T16:25:12", "volume": 0.60}, {"time": "2025-06-02T16:25:54", "volume": 1.15}, {"time": "2025-06-02T16:26:30", "volume": 0.50},
        {"time": "2025-06-02T16:27:12", "volume": 0.50}, {"time": "2025-06-02T16:28:00", "volume": 0.40}, {"time": "2025-06-02T16:28:48", "volume": 1.10},
        {"time": "2025-06-02T16:29:30", "volume": 0.75}, {"time": "2025-06-02T16:30:00", "volume": 0.40}, {"time": "2025-06-02T16:30:36", "volume": 0.35},
        {"time": "2025-06-02T16:35:36", "volume": 0.23}, {"time": "2025-06-02T16:36:24", "volume": 0.03}, {"time": "2025-06-02T16:37:30", "volume": 0.03},
        {"time": "2025-06-02T16:39:00", "volume": 0.03}, {"time": "2025-06-02T16:40:42", "volume": 0.12}, {"time": "2025-06-02T16:42:48", "volume": 0.10},
        {"time": "2025-06-02T16:44:00", "volume": 0.03}, {"time": "2025-06-02T16:45:30", "volume": 0.03}, {"time": "2025-06-02T16:46:30", "volume": 0.05},
        {"time": "2025-06-02T16:48:30", "volume": 0.10}, {"time": "2025-06-02T16:50:00", "volume": 0.02}
      ]},
      "mark": {"type": "bar", "color": "#ff0000", "width": 5},
      "encoding": {
        "x": {
          "field": "time",
          "type": "temporal",
          "scale": {"domain": [
            {"year": 2025, "month": 6, "date": 2, "hours": 8, "minutes": 52},
            {"year": 2025, "month": 6, "date": 2, "hours": 17, "minutes": 10, "seconds": 54}
          ]},
          "axis": {
            "format": "%H:%M",
            "tickCount": 9,
            "title": null,
            "labelPadding": 10,
            "labelFlush": false
          }
        },
        "y": {
          "field": "volume",
          "type": "quantitative",
          "scale": {"domain": [0, 12.9], "nice": false},
          "axis": {
            "orient": "right",
            "values": [0, 5, 10],
            "title": "Volume (Million)",
            "titlePadding": 22
          }
        }
      }
    }
  ],
  "spacing": 24
}
